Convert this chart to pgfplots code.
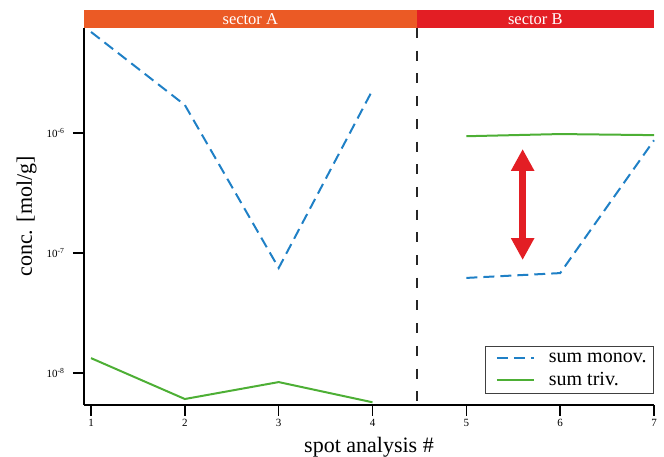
\documentclass[border=0pt]{standalone}
\usepackage{fontspec}
\setmainfont{Liberation Serif}
\usepackage{pgfplots}
\pgfplotsset{compat=1.18}
\usetikzlibrary{calc,arrows.meta}
\definecolor{monov}{HTML}{1F80C6}
\definecolor{triv}{HTML}{4DAF35}
\definecolor{secA}{HTML}{EB5A25}
\definecolor{secB}{HTML}{E31E24}
\begin{document}
\begin{tikzpicture}
\useasboundingbox (-84pt,-52pt) rectangle (580pt,405pt);
\begin{axis}[
  scale only axis,
  width=570pt, height=377pt,
  ymode=log,
  xmin=0.925, xmax=7,
  ymin=5.41e-9, ymax=7.5e-6,
  axis x line*=bottom,
  axis y line*=left,
  axis line style={line width=1.6pt, -},
  tick align=outside,
  major tick length=11pt,
  major tick style={line width=1.6pt, black},
  minor tick style={draw=none},
  xtick={1,2,3,4,5,6,7},
  ytick={1e-8,1e-7,1e-6},
  yticklabels={10\textsuperscript{-8},10\textsuperscript{-7},10\textsuperscript{-6}},
  /pgf/number format/assume math mode=true,
  ticklabel style={font=\fontsize{11}{13}\selectfont},
  yticklabel style={xshift=-5pt},
  xlabel={spot analysis \#},
  ylabel={conc. [mol/g]},
  label style={font=\fontsize{22}{26}\selectfont},
  xlabel style={yshift=-3pt},
  ylabel style={yshift=3pt},
  unbounded coords=jump,
  clip=false,
  legend style={at={(rel axis cs:1,0.0292)}, anchor=south east,
    draw=black!75, line width=1pt, font=\fontsize{20}{24}\selectfont,
    inner xsep=5pt, inner ysep=4pt, row sep=5pt,
    nodes={inner sep=2pt},
    /tikz/every odd column/.append style={column sep=12pt}},
  legend cell align=left,
  legend image code/.code={\path (-5pt,0pt); \draw[#1] (0pt,0pt) -- (37pt,0pt);},
]
\addplot[monov, line width=2pt, dash pattern=on 11pt off 6pt] coordinates {
  (1,6.95e-6) (2,1.71e-6) (3,7.5e-8) (4,2.28e-6) (4.5,nan)
  (5,6.2e-8) (6,6.8e-8) (7,8.7e-7)};
\addlegendentry{sum monov.}
\addplot[triv, line width=2pt] coordinates {
  (1,1.33e-8) (2,6.07e-9) (3,8.4e-9) (4,5.7e-9) (4.5,nan)
  (5,9.4e-7) (6,9.8e-7) (7,9.6e-7)};
\addlegendentry{sum triv.}
\coordinate (tl) at (rel axis cs:0,1);
\coordinate (tr) at (rel axis cs:1,1);
\coordinate (bl) at (rel axis cs:0,0);
\coordinate (dv) at (axis cs:4.47,1e-6);
\draw[black!85, line width=2pt, dash pattern=on 10pt off 12.7pt]
  (dv |- tl) -- (dv |- bl);
\draw[secB, line width=7.5pt, {Triangle[width=22pt,length=22pt]}-{Triangle[width=22pt,length=22pt]}]
  (axis cs:5.6,7.36e-7) -- (axis cs:5.6,8.74e-8);
\end{axis}
\fill[secA] (tl) rectangle ($(dv |- tl)+(0,18pt)$);
\fill[secB] (dv |- tl) rectangle ($(tr)+(0,18pt)$);
\node[white, anchor=base, font=\fontsize{16.5}{18}\selectfont] at ($(tl)!0.5!(dv |- tl)+(0,3pt)$) {sector A};
\node[white, anchor=base, font=\fontsize{16.5}{18}\selectfont] at ($(dv |- tl)!0.5!(tr)+(0,3pt)$) {sector B};
\end{tikzpicture}
\end{document}
